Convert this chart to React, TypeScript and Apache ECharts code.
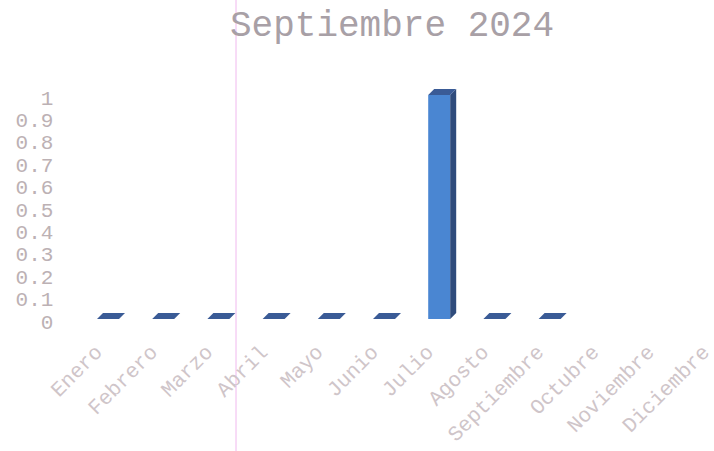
import React, { useEffect, useRef } from "react";
import * as echarts from "echarts";

const months = [
  "Enero", "Febrero", "Marzo", "Abril", "Mayo", "Junio",
  "Julio", "Agosto", "Septiembre", "Octubre", "Noviembre", "Diciembre",
];
const values: (number | null)[] = [0, 0, 0, 0, 0, 0, 1, 0, 0, null, null, null];
const titleText = "Septiembre 2024";

const FRONT_W = 22;
const DX = 6;
const DY = -6;
const CHART_W = 760;

export default function App() {
  const ref = useRef<HTMLDivElement>(null);
  useEffect(() => {
    if (!ref.current) return;
    const chart = echarts.init(ref.current, undefined, { renderer: "svg" });
    const data = months
      .map((m, i) => [i, values[i]])
      .filter((d) => d[1] !== null);
    chart.setOption({
      animation: false,
      backgroundColor: "#ffffff",
      title: {
        text: titleText,
        left: 230,
        top: 8,
        padding: 0,
        textStyle: {
          fontFamily: "Liberation Mono",
          fontSize: 36,
          fontWeight: "normal",
          color: "#a8a0a6",
        },
      },
      grid: { left: 80.4, right: CHART_W - 742.8, top: 95, bottom: 132, containLabel: false },
      xAxis: {
        type: "category",
        data: months,
        axisLine: { show: false },
        axisTick: { show: false },
        splitLine: { show: false },
        axisLabel: {
          interval: 0,
          rotate: 45,
          margin: 22,
          padding: [0, 12, 0, 0],
          fontFamily: "Liberation Mono",
          fontSize: 21,
          color: "#cfc5c9",
        },
      },
      yAxis: {
        type: "value",
        min: 0,
        max: 1,
        interval: 0.1,
        axisLine: { show: false },
        axisTick: { show: false },
        splitLine: { show: false },
        axisLabel: {
          margin: 27,
          formatter: "{a|{value}}",
          rich: {
            a: {
              padding: [8, 0, 0, 0],
              fontFamily: "Liberation Mono",
              fontSize: 21,
              color: "#bcb1b4",
            },
          },
          fontFamily: "Liberation Mono",
          fontSize: 21,
          color: "#bcb1b4",
        },
      },
      series: [
        {
          type: "custom",
          data,
          encode: { x: 0, y: 1 },
          renderItem: (params: any, api: any) => {
            const v = api.value(1);
            if (v === null || isNaN(v)) return null;
            const c0 = api.coord([api.value(0), 0]);
            const c1 = api.coord([api.value(0), v]);
            const xl = c0[0] - FRONT_W / 2;
            const xr = c0[0] + FRONT_W / 2;
            const yb = c0[1];
            const yt = c1[1];
            const children: any[] = [];
            if (yb - yt > 0.5) {
              children.push({
                type: "rect",
                shape: { x: xl, y: yt, width: FRONT_W, height: yb - yt },
                style: { fill: "#4a86d2" },
              });
              children.push({
                type: "polygon",
                shape: {
                  points: [[xr, yb], [xr + DX, yb + DY], [xr + DX, yt + DY], [xr, yt]],
                },
                style: { fill: "#2f4c7c" },
              });
            }
            children.push({
              type: "polygon",
              shape: {
                points: [[xl, yt], [xr, yt], [xr + DX, yt + DY], [xl + DX, yt + DY]],
              },
              style: { fill: "#3a5b96" },
            });
            return { type: "group", children };
          },
        },
      ],
      graphic: [
        {
          type: "line",
          shape: { x1: 236, y1: 0, x2: 236, y2: 451 },
          style: { stroke: "#f0b8ee", lineWidth: 1 },
          silent: true,
        },
      ],
    });
    return () => chart.dispose();
  }, []);
  return (
    <div
      style={{
        position: "fixed",
        left: 0,
        top: 0,
        width: 714,
        height: 451,
        overflow: "hidden",
        background: "#ffffff",
      }}
    >
      <div ref={ref} style={{ width: CHART_W, height: 451 }} />
    </div>
  );
}
